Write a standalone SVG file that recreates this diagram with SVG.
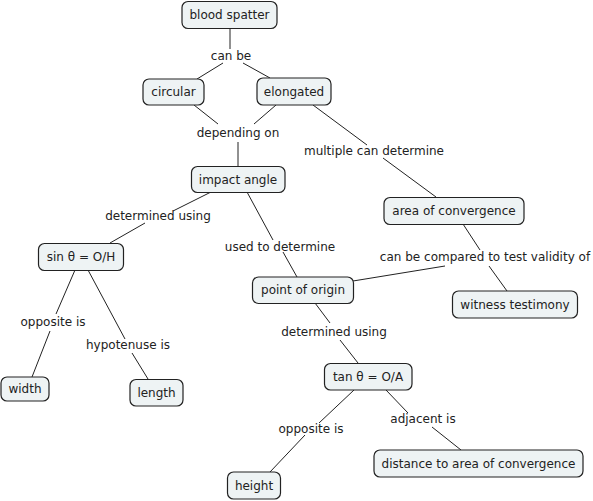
<svg xmlns="http://www.w3.org/2000/svg" width="593" height="501" viewBox="0 0 593 501">
<style>
.n rect{fill:#eef3f4;stroke:#222;stroke-width:1.2}
text{font-family:"DejaVu Sans",Verdana,sans-serif;font-size:12px;fill:#222;text-anchor:middle;dominant-baseline:central}
.c line{stroke:#222;stroke-width:1}
</style>
<rect width="593" height="501" fill="#fff"/>
<g class="c">
<line x1="230" y1="28" x2="230" y2="49"/>
<line x1="223" y1="63" x2="197" y2="79"/>
<line x1="243" y1="63" x2="270" y2="78"/>
<line x1="194" y1="105" x2="218" y2="124"/>
<line x1="276" y1="105" x2="254" y2="124"/>
<line x1="238" y1="142" x2="238" y2="166"/>
<line x1="313" y1="105" x2="367" y2="145"/>
<line x1="383" y1="158" x2="436" y2="197"/>
<line x1="211" y1="192" x2="173" y2="211"/>
<line x1="145" y1="223" x2="110" y2="243"/>
<line x1="247" y1="192" x2="273" y2="240"/>
<line x1="283" y1="252" x2="297" y2="277"/>
<line x1="75" y1="270" x2="56" y2="314"/>
<line x1="50" y1="331" x2="32" y2="377"/>
<line x1="88" y1="270" x2="125" y2="339"/>
<line x1="132" y1="353" x2="148" y2="379"/>
<line x1="463" y1="224" x2="480" y2="250"/>
<line x1="489" y1="266" x2="507" y2="291"/>
<line x1="445" y1="266" x2="353" y2="281"/>
<line x1="315" y1="303" x2="330" y2="323"/>
<line x1="340" y1="340" x2="358" y2="363"/>
<line x1="354" y1="390" x2="319" y2="423"/>
<line x1="305" y1="435" x2="270" y2="472"/>
<line x1="386" y1="390" x2="408" y2="413"/>
<line x1="432" y1="427" x2="461" y2="450"/>
<text x="231" y="56">can be</text>
<text x="238" y="133">depending on</text>
<text x="374" y="151">multiple can determine</text>
<text x="158" y="216">determined using</text>
<text x="280" y="247">used to determine</text>
<text x="485" y="257">can be compared to test validity of</text>
<text x="53" y="322">opposite is</text>
<text x="128" y="345">hypotenuse is</text>
<text x="334" y="332">determined using</text>
<text x="311" y="429">opposite is</text>
<text x="423" y="419">adjacent is</text>
</g>
<g id="blood-spatter" class="n"><rect x="182" y="1.5" width="95" height="27" rx="6"/><text x="229.5" y="15">blood spatter</text></g>
<g id="circular" class="n"><rect x="143" y="79" width="61" height="26" rx="6"/><text x="173.5" y="92">circular</text></g>
<g id="elongated" class="n"><rect x="257" y="78" width="74" height="27" rx="6"/><text x="294" y="91.5">elongated</text></g>
<g id="impact-angle" class="n"><rect x="191.5" y="166.5" width="93.5" height="26" rx="6"/><text x="238" y="179.5">impact angle</text></g>
<g id="sin" class="n"><rect x="38.5" y="243.5" width="85" height="27" rx="6"/><text x="81" y="257">sin θ = O/H</text></g>
<g id="width" class="n"><rect x="1" y="377" width="48" height="24" rx="6"/><text x="25" y="389">width</text></g>
<g id="length" class="n"><rect x="130" y="379.5" width="53" height="26.5" rx="6"/><text x="156.5" y="392.5">length</text></g>
<g id="area-of-convergence" class="n"><rect x="384" y="197.5" width="140" height="27" rx="6"/><text x="454" y="211">area of convergence</text></g>
<g id="point-of-origin" class="n"><rect x="252.5" y="277" width="101" height="26.5" rx="6"/><text x="303" y="290">point of origin</text></g>
<g id="witness-testimony" class="n"><rect x="452.5" y="291" width="125" height="27" rx="6"/><text x="515" y="304.5">witness testimony</text></g>
<g id="tan" class="n"><rect x="324.5" y="363.5" width="87.5" height="26.5" rx="6"/><text x="368" y="376.5">tan θ = O/A</text></g>
<g id="height" class="n"><rect x="227.5" y="472" width="53" height="27" rx="6"/><text x="254" y="485.5">height</text></g>
<g id="distance" class="n"><rect x="374" y="450" width="209" height="27" rx="6"/><text x="478.5" y="463.5">distance to area of convergence</text></g>
</svg>
